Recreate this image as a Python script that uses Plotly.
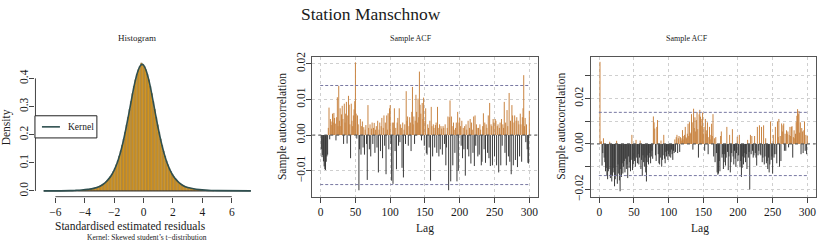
import plotly.graph_objects as go

W, H = 817, 245
FONT = "Liberation Serif"

# ---------------- data ----------------
# histogram of standardised residuals (density per 0.1-wide bin), first bin centre -4.45
HIST_START = -4.45
HIST_WIDTH = 0.1
hist_density = [
    0.0020, 0.0023, 0.0027, 0.0031, 0.0036, 0.0042, 0.0048, 0.0055, 0.0065, 0.0075,
    0.0085, 0.0100, 0.0115, 0.0130, 0.0150, 0.0180, 0.0210, 0.0240, 0.0280, 0.0330,
    0.0380, 0.0440, 0.0510, 0.0600, 0.0690, 0.0800, 0.0930, 0.1070, 0.1240, 0.1420,
    0.1620, 0.1850, 0.2090, 0.2350, 0.2620, 0.2900, 0.3180, 0.3460, 0.3720, 0.3950,
    0.4150, 0.4310, 0.4430, 0.4550, 0.4490,
    0.4430, 0.4310, 0.4150, 0.3950, 0.3720, 0.3460, 0.3180, 0.2900, 0.2620, 0.2350,
    0.2090, 0.1850, 0.1620, 0.1420, 0.1240, 0.1070, 0.0930, 0.0800, 0.0690, 0.0600,
    0.0510, 0.0440, 0.0380, 0.0330, 0.0280, 0.0240, 0.0210, 0.0180, 0.0150, 0.0130,
    0.0115, 0.0100, 0.0085, 0.0075, 0.0065, 0.0055, 0.0048, 0.0042, 0.0036, 0.0031,
    0.0027, 0.0023, 0.0020, 0.0017, 0.0015, 0.0012, 0.0010, 0.0008,
]
resid_min, resid_max = -6.8, 7.3

kernel_x = [-6.8, -5.0, -4.6, -4.2, -3.8, -3.4, -3.0, -2.8, -2.6, -2.4, -2.2, -2.0,
            -1.8, -1.6, -1.4, -1.2, -1.0, -0.8, -0.6, -0.4, -0.2, -0.1, 0.0, 0.2,
            0.4, 0.6, 0.8, 1.0, 1.2, 1.4, 1.6, 1.8, 2.0, 2.2, 2.4, 2.6, 2.8, 3.0,
            3.4, 3.8, 4.2, 4.6, 5.0, 7.3]
kernel_y = [0.0002, 0.0010, 0.0020, 0.0033, 0.0055, 0.0090, 0.0160, 0.0220, 0.0300,
            0.0410, 0.0550, 0.0740, 0.0990, 0.1320, 0.1730, 0.2220, 0.2760, 0.3320,
            0.3840, 0.4240, 0.4470, 0.4500, 0.4470, 0.4240, 0.3840, 0.3320, 0.2760,
            0.2210, 0.1730, 0.1320, 0.0990, 0.0740, 0.0550, 0.0410, 0.0300, 0.0220,
            0.0160, 0.0120, 0.0075, 0.0045, 0.0027, 0.0015, 0.0009, 0.0002]

hist_xticks = [-6, -4, -2, 0, 2, 4, 6]
hist_yticks = [0.0, 0.1, 0.2, 0.3, 0.4]

# sample ACF of residuals, lags 1..300 (units of 0.001)
acf1_milli = [
    -4.0, -6.2, -5.6, -7.4, -8.8, -9.6, -9.8, -7.5, -6.0, -5.5,
    2.0, 7.7, -1.2, 4.5, 3.8, 2.8, 6.0, 3.5, 6.2, 4.8,
    3.2, -1.5, 5.0, 10.6, 2.5, 13.8, 4.0, 7.5, 2.5, 5.8,
    8.2, 4.5, -2.5, 8.8, 3.5, 6.0, 9.3, -2.4, 5.5, 11.0,
    8.5, 3.0, -6.5, 8.8, 4.0, 2.5, 5.5, 7.2, 9.5, 20.4,
    6.0, -1.0, 5.5, 3.0, -15.5, -4.0, 4.5, -5.5, 2.5, 3.8,
    -3.5, 2.2, -5.5, 1.5, 2.8, -2.5, -12.6, 8.4, 2.0, -4.0,
    3.0, -6.0, 1.8, 3.5, -2.5, 2.0, 3.4, -5.0, 1.5, 2.5,
    -3.5, 4.0, -10.5, 1.5, 3.5, -4.5, 2.5, 4.8, -6.5, 2.0,
    5.5, -3.0, 3.5, -11.0, 5.5, 1.5, 6.1, -4.0, 7.5, 8.4,
    -2.5, -12.8, 3.5, -13.7, 3.5, 7.5, -4.5, 2.0, -9.6, 3.5,
    4.8, -3.0, 7.5, -2.0, 3.0, 2.0, -9.2, 3.5, -11.9, 1.5,
    3.0, -2.5, 12.3, 4.0, 5.2, -3.0, 2.5, 5.0, 3.5, -4.5,
    6.5, 13.5, 3.0, 5.2, -2.5, 4.0, 11.3, 6.5, 3.5, 10.2,
    5.0, 17.8, 8.5, 6.0, -1.5, 9.0, 4.5, 10.5, -3.0, 4.0,
    7.5, -5.1, -5.5, 3.0, 2.0, -3.5, 4.0, -12.8, 7.9, 2.5,
    -6.0, 3.0, 2.0, -3.5, 2.8, 3.5, -5.0, 7.9, 2.0, -6.0,
    3.0, -4.0, 2.5, 1.8, -5.5, 2.5, 2.0, -2.5, 3.0, -8.5,
    -3.5, 2.0, 5.2, -15.5, 5.0, 9.7, -13.0, 5.2, 2.5, -8.5,
    3.5, 1.5, -5.0, 2.0, 3.5, -13.0, 6.5, -10.0, 3.5, 4.8,
    2.5, -3.0, 4.0, -6.5, 2.0, -4.0, 2.5, -11.4, 3.0, 1.5,
    -4.0, 4.0, -6.0, 2.0, 4.5, -8.0, 3.5, 1.5, -5.0, 5.2,
    -8.7, 5.5, -3.0, 3.0, 2.0, -6.0, 2.0, -5.5, 3.0, 1.5,
    -8.5, -7.5, 2.5, 6.1, -4.0, 3.5, -7.8, 3.0, 2.0, -5.0,
    5.5, -6.5, 9.0, -8.7, 3.0, 2.5, -8.5, 4.5, 3.5, -6.0,
    4.5, 4.0, -8.5, 2.5, 3.0, -10.5, 2.0, 3.5, -8.5, 4.5,
    -3.0, 3.0, 2.0, 9.3, -5.0, 3.5, -8.5, 7.0, 2.5, -6.0,
    11.8, -7.5, 4.0, -11.0, 8.4, 5.5, -8.5, 3.5, 5.5, -7.0,
    4.0, 5.0, -9.0, 4.0, 3.0, -6.0, 6.0, 3.0, -7.5, 5.0,
    7.5, 16.8, 2.5, 4.8, -2.0, 3.0, -4.0, -7.8, -8.0, 6.8,
]

acf2_milli = [
    36.1, 1.0, 1.2, -9.5, -4.0, 2.5, -6.0, -8.0, -12.0, -10.5,
    -14.0, -15.5, -12.0, -11.0, 1.0, -15.0, -13.5, -16.5, -14.0, -10.5,
    -12.5, -18.6, -15.5, -14.0, 1.4, -17.5, -9.0, -13.0, -16.0, -20.8,
    -11.0, -14.5, -8.5, -13.0, -10.0, -7.5, -12.5, -6.5, -11.0, -9.0,
    -15.0, -5.5, -10.5, -8.0, -12.0, -7.0, 4.0, -11.5, -9.0, -6.5,
    -7.5, -10.0, 1.8, -6.0, -8.5, -4.5, -9.0, -6.0, 1.5, -11.0,
    -7.0, -14.0, -5.0, -8.0, -10.0, -6.0, -12.5, -16.5, -8.0, -5.0,
    -9.0, -6.0, -4.0, -8.5, -5.5, -3.0, -6.5, 12.1, 9.5, 6.8,
    -5.0, -7.5, 7.5, 10.5, -4.5, -8.5, -9.0, -6.0, 1.5, -10.0,
    -7.0, -5.0, 4.0, -6.5, -8.5, -3.5, -5.5, -3.0, -7.0, -4.5,
    -5.5, -3.5, -6.0, -2.5, -4.5, -7.0, -3.0, -4.0, 2.0, -3.5,
    3.0, 4.0, -4.0, 2.5, 3.5, -3.5, 3.0, 2.5, 1.5, 6.1,
    2.0, 3.5, 4.0, 7.5, 3.0, 2.5, 4.5, 8.9, 3.5, 9.6,
    5.0, 4.5, 13.1, 9.5, -2.5, 15.5, 7.0, 11.7, 5.5, 10.5,
    14.0, 6.5, -6.0, 13.0, 15.0, 12.0, 8.0, 11.0, 13.8, 4.5,
    7.5, -3.0, 11.0, 4.5, 6.0, 9.5, -4.5, 3.0, 7.5, 2.0,
    4.0, 8.9, 3.5, 13.1, -5.5, 2.5, -8.0, 3.0, -4.0, -12.5,
    -13.5, -13.0, -7.5, -12.0, 3.5, 5.5, -6.0, -4.5, -11.0, -8.0,
    -4.5, -9.5, -6.0, 7.5, -3.5, -11.5, -5.5, 4.0, -12.5, -8.0,
    -4.0, 6.5, -5.5, -9.0, -3.0, -6.5, -10.0, -4.0, 3.2, -7.5,
    -5.0, 4.0, -10.2, -7.5, -14.5, -10.5, -5.5, -9.0, -6.0, -4.0,
    -8.0, -4.5, -11.0, 1.8, -6.0, -3.5, -20.0, 4.0, -4.5, 3.5,
    -3.0, -6.0, -5.0, 3.5, -4.0, -6.0, -9.5, 7.5, -5.0, -3.0,
    8.2, -4.5, -5.0, 7.5, -8.0, -6.0, 8.2, -9.0, -5.5, 2.5,
    -8.5, -7.5, -11.0, -6.0, -12.5, -9.0, 9.9, -7.0, -5.5, -13.0,
    4.0, -6.0, -4.5, 7.5, -4.5, -8.5, 9.9, 3.0, 11.0, -10.0,
    3.5, -7.5, 9.0, 5.5, 8.2, 9.0, -3.0, 4.5, -3.0, 6.0,
    4.5, 5.5, -1.5, 4.0, 7.5, 3.5, 7.5, 7.8, -6.0, 3.0,
    6.0, 2.5, 4.5, 9.6, 12.4, 15.3, 13.1, 14.5, 5.0, 9.5,
    -4.5, 7.0, 5.5, -4.0, 6.0, 9.9, -3.0, 4.0, -4.5, 3.5,
]
acf_ci = 0.0139
lags = list(range(1, len(acf1_milli) + 1))
acf1 = [v / 1000 for v in acf1_milli]
acf2 = [v / 1000 for v in acf2_milli]
lag_ticks = [0, 50, 100, 150, 200, 250, 300]
acf1_yticks = [-0.01, 0.0, 0.01, 0.02]
acf1_ylabels = ["\u22120.01", "0.00", "0.01", "0.02"]
acf2_yticks = [-0.02, -0.01, 0.0, 0.01, 0.02, 0.03]
acf2_ylabels = ["\u22120.02", "", "0.00", "", "0.02", ""]

# ---------------- styling ----------------
POS_COL = "#C98442"
NEG_COL = "#3A3A3A"
HIST_FILL = "#EBA21A"
HIST_LINE = "#74603C"
KERNEL_COL = "#2F4F4F"
CI_COL = "#7878A2"
AX_COL = "#444444"
TXT = "#1a1a1a"


def px(x):
    return x / W


def py(y):
    return 1 - y / H


PLOT_TOP, PLOT_BOT = 54.3, 199.0
p1 = (35.5, 259.4)
p2 = (312.7, 538.3)
p3 = (591.7, 816.6)

hist_x = [HIST_START + i * HIST_WIDTH for i in range(len(hist_density))]


def stems(xv, yv, positive):
    xs, ys = [], []
    for x, y in zip(xv, yv):
        if (y > 0) == positive:
            xs += [x, x, None]
            ys += [0, y, None]
    return xs, ys


fig = go.Figure()

fig.add_trace(go.Bar(x=hist_x, y=hist_density, width=HIST_WIDTH,
                     marker=dict(color=HIST_FILL, line=dict(color=HIST_LINE, width=0.4)),
                     xaxis="x", yaxis="y", showlegend=False))
fig.add_trace(go.Scatter(x=[resid_min, resid_max], y=[0, 0], mode="lines",
                         line=dict(color="#333333", width=1), xaxis="x", yaxis="y",
                         showlegend=False))
fig.add_trace(go.Scatter(x=kernel_x, y=kernel_y, mode="lines", line_shape="spline",
                         line=dict(color=KERNEL_COL, width=1.6), xaxis="x", yaxis="y",
                         name="Kernel", showlegend=False))

for vals, xa, ya in [(acf1, "x2", "y2"), (acf2, "x3", "y3")]:
    for positive, col in [(True, POS_COL), (False, NEG_COL)]:
        xs, ys = stems(lags, vals, positive)
        fig.add_trace(go.Scatter(x=xs, y=ys, mode="lines", connectgaps=False,
                                 line=dict(color=col, width=1), xaxis=xa, yaxis=ya,
                                 showlegend=False, hoverinfo="skip"))

tickfont = dict(family=FONT, size=11.5, color=TXT)
common_x = dict(ticks="outside", ticklen=5, tickcolor=AX_COL, tickwidth=1,
                tickfont=tickfont, zeroline=False, fixedrange=True)
common_y = dict(ticks="outside", ticklen=5, tickcolor=AX_COL, tickwidth=1,
                tickfont=tickfont, zeroline=False, tickangle=-90, fixedrange=True,
                ticklabelstandoff=-3)
ydom = [py(PLOT_BOT), py(PLOT_TOP)]

fig.update_layout(
    width=W, height=H, margin=dict(l=0, r=0, t=0, b=0),
    paper_bgcolor="white", plot_bgcolor="white", showlegend=False,
    font=dict(family=FONT, color=TXT),
    xaxis=dict(domain=[px(p1[0]), px(p1[1])], range=[-7.36, 7.86], anchor="y",
               tickvals=hist_xticks,
               ticktext=[str(t).replace("-", "\u2212") for t in hist_xticks],
               showgrid=False, showline=False, **common_x),
    yaxis=dict(domain=ydom, range=[-0.0205, 0.475], anchor="x",
               tickvals=hist_yticks, ticktext=[f"{t:.1f}" for t in hist_yticks],
               showgrid=False, showline=False, **common_y),
    xaxis2=dict(domain=[px(p2[0]), px(p2[1])], range=[-12, 312], anchor="y2",
                tickvals=lag_ticks, showgrid=True, gridcolor="#cfcfcf", griddash="dot",
                gridwidth=1, showline=True, mirror=True, linecolor="#555555", linewidth=1,
                **common_x),
    yaxis2=dict(domain=ydom, range=[-0.0173, 0.02181], anchor="x2",
                tickvals=acf1_yticks, ticktext=acf1_ylabels, showgrid=True,
                gridcolor="#cfcfcf", griddash="dot", gridwidth=1, showline=True,
                mirror=True, linecolor="#555555", linewidth=1, **common_y),
    xaxis3=dict(domain=[px(p3[0]), min(1.0, px(p3[1]))], range=[-12, 312], anchor="y3",
                tickvals=lag_ticks, showgrid=True, gridcolor="#cfcfcf", griddash="dot",
                gridwidth=1, showline=True, mirror=True, linecolor="#555555", linewidth=1,
                **common_x),
    yaxis3=dict(domain=ydom, range=[-0.02318, 0.0381], anchor="x3",
                tickvals=acf2_yticks, ticktext=acf2_ylabels, showgrid=True,
                gridcolor="#cfcfcf", griddash="dot", gridwidth=1, showline=True,
                mirror=True, linecolor="#555555", linewidth=1, **common_y),
)

shapes = []
# R-style axis lines for the histogram (first to last tick)
shapes.append(dict(type="line", xref="x", yref="paper", x0=hist_xticks[0], x1=hist_xticks[-1],
                   y0=py(PLOT_BOT), y1=py(PLOT_BOT), line=dict(color=AX_COL, width=1)))
shapes.append(dict(type="line", xref="paper", yref="y", x0=px(p1[0]), x1=px(p1[0]),
                   y0=hist_yticks[0], y1=hist_yticks[-1], line=dict(color=AX_COL, width=1)))
# zero lines and confidence bands
for xa, ya in [("x2", "y2"), ("x3", "y3")]:
    shapes.append(dict(type="line", xref=f"{xa} domain", yref=ya, x0=0, x1=1, y0=0, y1=0,
                       line=dict(color="#555555", width=1, dash="dot")))
    for s in (1, -1):
        shapes.append(dict(type="line", xref=f"{xa} domain", yref=ya, x0=0.035, x1=0.965,
                           y0=s * acf_ci, y1=s * acf_ci,
                           line=dict(color=CI_COL, width=1, dash="3px,2px")))
# legend box
shapes.append(dict(type="rect", xref="paper", yref="paper", x0=px(35), x1=px(97),
                   y0=py(138), y1=py(115), line=dict(color="#222222", width=1),
                   fillcolor="white"))
shapes.append(dict(type="line", xref="paper", yref="paper", x0=px(42), x1=px(60),
                   y0=py(126.5), y1=py(126.5), line=dict(color=KERNEL_COL, width=1.6)))
fig.update_layout(shapes=shapes)

ann = []


def text(t, x, y, size, angle=0, xanchor="center"):
    ann.append(dict(text=t, x=px(x), y=py(y), xref="paper", yref="paper", showarrow=False,
                    xanchor=xanchor, yanchor="middle", textangle=angle,
                    font=dict(family=FONT, size=size, color=TXT)))


text("Station Manschnow", 371, 9, 17.5)
text("Histogram", 137, 34, 9)
text("Sample ACF", 412, 35, 8)
text("Sample ACF", 688, 35, 8)
text("Density", 6, 127, 11.5, -90)
text("Standardised estimated residuals", 131, 229, 11.5)
text("Kernel: Skewed student\u2019s t\u2212distribution", 147, 241, 7.5)
text("Sample autocorrelation", 283, 126, 11.5, -90)
text("Sample autocorrelation", 562, 126, 11.5, -90)
text("Lag", 426, 232, 11.5)
text("Lag", 701, 232, 11.5)
text("Kernel", 66, 126.5, 9.5, xanchor="left")
fig.update_layout(annotations=ann)

fig.write_html("out.html", config={"displayModeBar": False},
               post_script="document.body.style.margin='0';document.body.style.overflow='hidden';")
